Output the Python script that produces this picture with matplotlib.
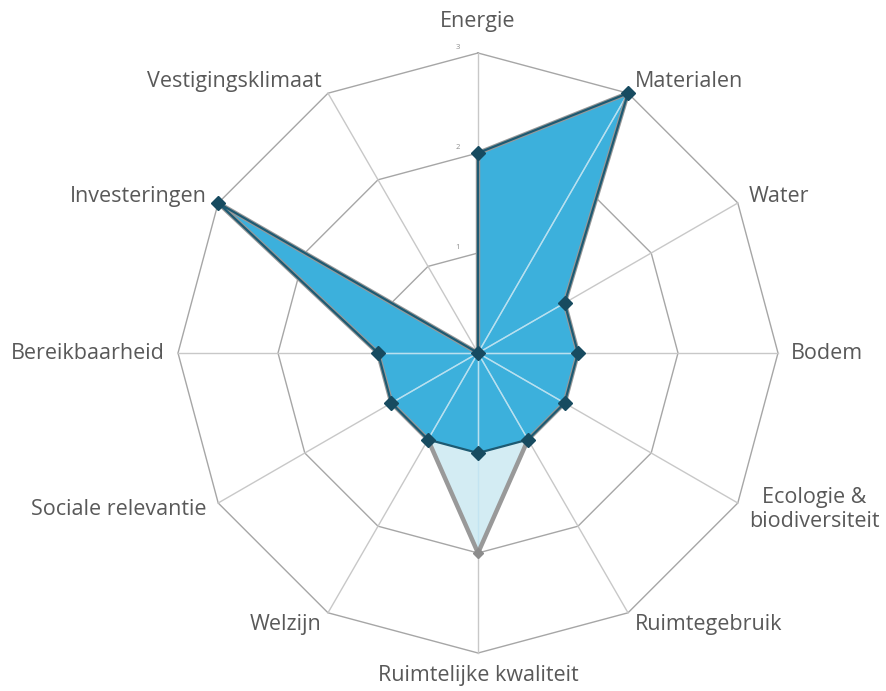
import numpy as np
import matplotlib
matplotlib.use('Agg')
from matplotlib import pyplot as plt
from matplotlib.patches import Polygon

plt.rcParams['font.family'] = ['Open Sans', 'DejaVu Sans']

# Data
categories = ['Energie', 'Materialen', 'Water', 'Bodem',
              'Ecologie &\nbiodiversiteit', 'Ruimtegebruik',
              'Ruimtelijke kwaliteit', 'Welzijn', 'Sociale relevantie',
              'Bereikbaarheid', 'Investeringen', 'Vestigingsklimaat']
series_grey = [2, 3, 1, 1, 1, 1, 2, 1, 1, 1, 3, 0]
series_blue = [2, 3, 1, 1, 1, 1, 1, 1, 1, 1, 3, 0]
ring_values = [1, 2, 3]
tick_labels = ['1', '2', '3']

n = len(categories)
angles = np.arange(n) * 2 * np.pi / n


def to_xy(values):
    r = np.asarray(values, dtype=float)
    return r * np.sin(angles), r * np.cos(angles)


fig = plt.figure(figsize=(8.86, 6.91), dpi=100)
ax = fig.add_axes([0, 0, 1, 1])
ax.set_xlim(-4.78, 4.08)
ax.set_ylim(-3.38, 3.53)
ax.axis('off')

# grid rings and spokes
for rv in ring_values:
    gx, gy = to_xy([rv] * n)
    ax.plot(np.append(gx, gx[0]), np.append(gy, gy[0]),
            color='#a6a6a6', lw=1.0, zorder=1)
ox, oy = to_xy([ring_values[-1]] * n)
for x, y in zip(ox, oy):
    ax.plot([0, x], [0, y], color='#c8c8c8', lw=1.0, zorder=1)

# grey series (behind)
gx, gy = to_xy(series_grey)
poly_g = Polygon(np.column_stack([gx, gy]), closed=True,
                 facecolor='#d3ecf3', edgecolor='none', zorder=2)
ax.add_patch(poly_g)

# blue series fill
bx, by = to_xy(series_blue)
poly_b = Polygon(np.column_stack([bx, by]), closed=True,
                 facecolor='#3cb0dc', edgecolor='none', zorder=4)
ax.add_patch(poly_b)

# light spokes visible through the fills
for x, y in zip(ox, oy):
    for poly in (poly_g, poly_b):
        ln, = ax.plot([0, x], [0, y], color='#bfe3f1', lw=1.0, zorder=5,
                      alpha=0.8)
        ln.set_clip_path(poly)

# grey outline and markers
ax.plot(np.append(gx, gx[0]), np.append(gy, gy[0]), color='#999999',
        lw=3.2, zorder=6, solid_joinstyle='miter')
ax.plot(gx, gy, linestyle='none', marker='D', ms=5,
        color='#8c8c8c', zorder=6)

# blue outline and markers
ax.plot(np.append(bx, bx[0]), np.append(by, by[0]), color='#1d5a72',
        lw=1.6, zorder=7)
ax.plot(bx, by, linestyle='none', marker='D', ms=7,
        color='#174b60', zorder=8)

# tick labels along the top axis
for rv, tl in zip(ring_values, tick_labels):
    ax.text(-0.2, rv + 0.02, tl, fontsize=5.5, color='#8c8c8c',
            ha='center', va='bottom', zorder=9)

# category labels
for ang, lab in zip(angles, categories):
    s, c = np.sin(ang), np.cos(ang)
    if abs(s) < 1e-6:
        r = 3.31 if c > 0 else 3.22
        ha = 'center'
    else:
        r = 3.13
        ha = 'left' if s > 0 else 'right'
    ax.text(r * s, r * c, lab, ha=ha, va='center', ma='center',
            fontsize=15.5, color='#595959', linespacing=1.15)

fig.savefig('out.png', dpi=100)
plt.close(fig)
